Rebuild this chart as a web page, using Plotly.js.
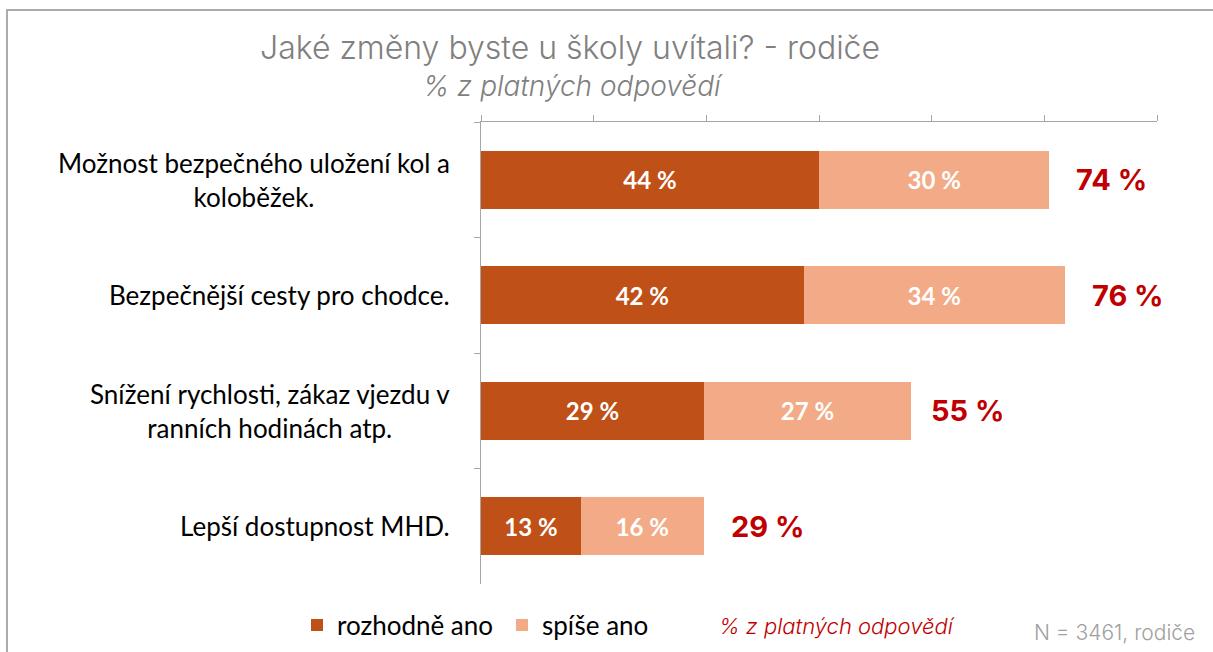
<!DOCTYPE html>
<html>
<head>
<meta charset="utf-8">
<script src="https://cdn.plot.ly/plotly-3.0.1.min.js"></script>
<style>
  html, body { margin:0; padding:0; background:#fff; }
  #chart { position:absolute; left:0; top:0; width:1213px; height:652px; }
  #frame { position:absolute; left:6px; top:9px; width:1207px; height:643px;
           border-top:2px solid #ABABAB; border-left:2px solid #ABABAB; box-sizing:border-box; pointer-events:none; }
</style>
</head>
<body>
<div id="chart"></div>
<div id="frame"></div>
<script>
const categories = [
  'Možnost bezpečného uložení kol a<br>koloběžek.',
  'Bezpečnější cesty pro chodce.',
  'Snížení rychlosti, zákaz vjezdu v<br>ranních hodinách atp.',
  'Lepší dostupnost MHD.'
];
const rozhodneAno = [44, 42, 29, 13];
const spiseAno = [30, 34, 27, 16];
const totals = [74, 76, 55, 29];
const seriesNames = ['rozhodně ano', 'spíše ano'];
const titleText = 'Jaké změny byste u školy uvítali? - rodiče';
const subtitleText = '% z platných odpovědí';
const noteText = '% z platných odpovědí';
const sampleText = 'N = 3461, rodiče';

const colors = ['#BF5017', '#F2AB86'];
const calibri = 'Lato, "Liberation Sans", sans-serif';
const geo = 'Inter, "Open Sans", sans-serif';

const xMax = 88;
const tickVals = [];
for (let i = 0; i <= 6; i++) tickVals.push(xMax * i / 6);

function barTrace(vals, name, color) {
  return {
    type: 'bar', orientation: 'h', name: name,
    x: vals, y: categories,
    marker: { color: color, line: { width: 0 } },
    text: vals.map(v => v + ' %'),
    textposition: 'inside', insidetextanchor: 'middle', textangle: 0,
    constraintext: 'none',
    textfont: { family: calibri, size: 24, color: '#FFFFFF', weight: 700 },
    hoverinfo: 'skip'
  };
}

const data = [
  barTrace(rozhodneAno, seriesNames[0], colors[0]),
  barTrace(spiseAno, seriesNames[1], colors[1])
];

const annotations = [];
categories.forEach((c, i) => {
  annotations.push({
    xref: 'paper', yref: 'y', x: (452 - 481) / 676, y: c,
    xanchor: 'right', yanchor: 'middle', align: 'center', showarrow: false,
    text: c, font: { family: calibri, size: 26, color: '#000000' }
  });
  annotations.push({
    xref: 'x', yref: 'y', x: totals[i], y: c,
    xanchor: 'left', yanchor: 'middle', xshift: 25, showarrow: false,
    text: totals[i] + ' %', font: { family: geo, size: 29, color: '#C00000', weight: 700 }
  });
});
annotations.push({
  xref: 'paper', yref: 'paper', x: (570 - 481) / 676, y: (584 - 48) / 462,
  xanchor: 'center', yanchor: 'middle', showarrow: false,
  text: titleText, font: { family: geo, size: 32, color: '#808080', weight: 300 }
});
annotations.push({
  xref: 'paper', yref: 'paper', x: (573 - 481) / 676, y: (584 - 86) / 462,
  xanchor: 'center', yanchor: 'middle', showarrow: false,
  text: '<i>' + subtitleText + '</i>', font: { family: geo, size: 28, color: '#808080', weight: 300 }
});
annotations.push({
  xref: 'paper', yref: 'paper', x: (837 - 481) / 676, y: (584 - 626) / 462,
  xanchor: 'center', yanchor: 'middle', showarrow: false,
  text: '<i>' + noteText + '</i>', font: { family: geo, size: 22, color: '#C00000', weight: 300 }
});
annotations.push({
  xref: 'paper', yref: 'paper', x: (1197 - 481) / 676, y: (584 - 632) / 462,
  xanchor: 'right', yanchor: 'middle', showarrow: false,
  text: sampleText, font: { family: geo, size: 21, color: '#A0A0A0', weight: 300 }
});

const layout = {
  width: 1213, height: 652,
  margin: { l: 481, r: 56, t: 122, b: 68, pad: 0, autoexpand: false },
  paper_bgcolor: '#FFFFFF', plot_bgcolor: '#FFFFFF',
  barmode: 'stack', bargap: 0.5,
  showlegend: true,
  legend: {
    orientation: 'h', xref: 'container', yref: 'container',
    x: 297 / 1213, xanchor: 'left',
    y: (652 - 625) / 652, yanchor: 'middle',
    font: { family: calibri, size: 26, color: '#000000' },
    entrywidth: 160, entrywidthmode: 'pixels',
    traceorder: 'normal', itemclick: false, itemdoubleclick: false,
    bgcolor: 'rgba(0,0,0,0)'
  },
  xaxis: {
    side: 'top', range: [0, xMax], tickmode: 'array', tickvals: tickVals,
    showticklabels: false, ticks: 'outside', ticklen: 6, tickwidth: 1, tickcolor: '#A6A6A6',
    showline: true, linecolor: '#A6A6A6', linewidth: 1.5,
    showgrid: false, zeroline: false, fixedrange: true
  },
  yaxis: {
    type: 'category', autorange: 'reversed',
    showticklabels: false, ticks: 'outside', tickson: 'boundaries', ticklen: 6, tickwidth: 1, tickcolor: '#A6A6A6',
    showline: true, linecolor: '#A6A6A6', linewidth: 1.5,
    showgrid: false, zeroline: false, fixedrange: true
  },
  annotations: annotations
};

Plotly.newPlot('chart', data, layout, { displayModeBar: false, staticPlot: true });
</script>
</body>
</html>
